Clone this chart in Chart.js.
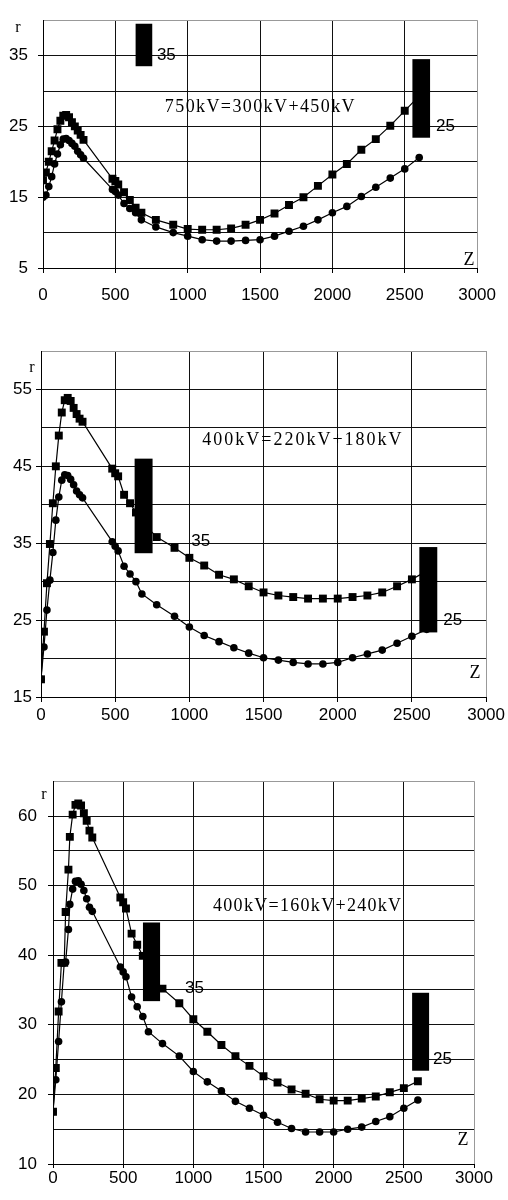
<!DOCTYPE html>
<html>
<head>
<meta charset="utf-8">
<script src="https://cdn.jsdelivr.net/npm/chart.js@4"></script>
<style>
  body { margin: 0; background: #fff; width: 508px; height: 1200px; position: relative; overflow: hidden; }
  canvas { position: absolute; left: 0; }
</style>
</head>
<body>
<canvas id="top" width="508" height="310" style="top:0px"></canvas>
<canvas id="mid" width="508" height="400" style="top:330px"></canvas>
<canvas id="low" width="508" height="440" style="top:760px"></canvas>
<script>
// Z values (same for the first two panels)
const zA = [0, 20, 40, 60, 80, 100, 120, 140, 160, 180, 200, 220, 240, 260, 280,
  480, 500, 520, 560, 600, 640, 680, 780, 900, 1000, 1100, 1200, 1300, 1400, 1500,
  1600, 1700, 1800, 1900, 2000, 2100, 2200, 2300, 2400, 2500, 2600];
const zB = [0, 20, 40, 60, 80, 90, 110, 120, 140, 160, 180, 200, 220, 240, 260, 280,
  480, 500, 520, 560, 600, 640, 680, 780, 900, 1000, 1100, 1200, 1300, 1400, 1500,
  1600, 1700, 1800, 1900, 2000, 2100, 2200, 2300, 2400, 2500, 2600];

// 750kV = 300kV + 450kV
const r750sq = [17.4, 18.5, 20.0, 21.5, 23.0, 24.6, 25.8, 26.5, 26.6, 26.3, 25.6, 25.0, 24.4, 23.8, 23.1,
  17.6, 17.3, 16.8, 15.7, 14.6, 13.5, 12.8, 11.8, 11.1, 10.5, 10.4, 10.4, 10.6, 11.1, 11.8,
  12.7, 13.9, 15.0, 16.6, 18.2, 19.7, 21.7, 23.2, 25.1, 27.2, 29.3];
const r750ci = [15.0, 15.3, 16.5, 17.9, 19.7, 21.1, 22.4, 23.2, 23.3, 23.0, 22.6, 22.2, 21.5, 21.0, 20.5,
  16.1, 15.8, 15.3, 14.1, 13.4, 12.8, 11.8, 10.8, 10.0, 9.5, 9.0, 8.8, 8.8, 8.9, 9.0,
  9.5, 10.2, 10.9, 11.8, 12.8, 13.7, 15.1, 16.4, 17.7, 19.0, 20.6];

// 400kV = 220kV + 180kV
const r220sq = [17.3, 23.5, 29.8, 34.9, 40.2, 45.0, 49.0, 52.0, 53.6, 53.9, 53.5, 52.6, 51.8, 51.2, 50.8,
  44.7, 44.1, 43.7, 41.3, 40.2, 39.0, 37.8, 35.8, 34.4, 33.1, 32.1, 30.9, 30.3, 29.4, 28.6,
  28.2, 28.0, 27.8, 27.8, 27.8, 28.0, 28.2, 28.6, 29.4, 30.3, 31.4];
const r220ci = [17.3, 21.5, 26.3, 30.2, 33.8, 38.0, 41.0, 43.2, 43.9, 43.8, 43.3, 42.6, 41.8, 41.3, 40.9,
  35.2, 34.6, 34.0, 32.0, 31.0, 30.0, 28.4, 27.0, 25.5, 24.1, 23.0, 22.2, 21.4, 20.7, 20.1,
  19.8, 19.5, 19.3, 19.3, 19.5, 20.1, 20.6, 21.1, 22.0, 22.9, 23.8];

// 400kV = 160kV + 240kV
const r160sq = [17.5, 23.8, 31.9, 38.9, 38.9, 46.2, 52.3, 57.0, 60.2, 61.6, 61.8, 61.5, 60.4, 59.3, 57.9, 56.9,
  48.3, 47.6, 46.7, 43.1, 41.5, 39.9, 37.5, 35.2, 33.1, 30.8, 29.0, 27.1, 25.5, 24.1, 22.6,
  21.7, 20.7, 20.1, 19.3, 19.1, 19.1, 19.4, 19.7, 20.3, 20.9, 21.9];
const r160ci = [17.5, 22.1, 27.6, 33.3, 38.9, 39.0, 43.7, 47.3, 49.5, 50.6, 50.7, 50.2, 49.3, 48.1, 46.9, 46.3,
  38.3, 37.6, 36.9, 34.0, 32.6, 31.2, 29.0, 27.3, 25.5, 23.3, 21.8, 20.5, 19.0, 18.0, 17.0,
  16.0, 15.1, 14.6, 14.6, 14.6, 15.0, 15.3, 16.1, 16.8, 18.0, 19.2];

// labelled ticks on the r axes
const yTicks750 = [5, 15, 25, 35];
const yTicks220 = [15, 25, 35, 45, 55];
const yTicks160 = [10, 20, 30, 40, 50, 60];

Chart.defaults.color = '#000';
Chart.defaults.font.family = '"Liberation Sans", Arial, sans-serif';
Chart.defaults.font.size = 17;

function spaced(ctx, s, px, py, gap) {
  for (const ch of s) {
    ctx.fillText(ch, px, py);
    px += ctx.measureText(ch).width + gap;
  }
}

// black boxes, their numbers, the formula and the axis letters
const extras = {
  id: 'extras',
  afterDatasetsDraw(chart, args, o) {
    const { ctx, chartArea: a, scales: { x, y } } = chart;
    ctx.save();
    ctx.fillStyle = '#000';
    ctx.textBaseline = 'middle';
    ctx.textAlign = 'left';
    ctx.font = '17px "Liberation Sans"';
    o.boxes.forEach(b => {
      const l = x.getPixelForValue(b.x0), r = x.getPixelForValue(b.x1);
      const t = y.getPixelForValue(b.y1), bt = y.getPixelForValue(b.y0);
      ctx.fillRect(l, t, r - l, bt - t);
      ctx.fillText(b.text, x.getPixelForValue(b.tx), y.getPixelForValue(b.ty));
    });
    ctx.font = '18px "Liberation Serif"';
    spaced(ctx, o.formula.text, x.getPixelForValue(o.formula.x), y.getPixelForValue(o.formula.y), o.formula.gap);
    ctx.textAlign = 'center';
    ctx.font = '16px "Liberation Serif"';
    ctx.fillText('r', a.left + o.r[0], a.top + o.r[1]);
    ctx.font = '18px "Liberation Serif"';
    ctx.fillText('Z', a.right + o.z[0], a.bottom + o.z[1]);
    ctx.restore();
  }
};

function panel(id, z, sq, ci, yMin, yMax, yLabels, look) {
  const pts = arr => z.map((v, i) => ({ x: v, y: arr[i] }));
  const line = { borderColor: '#000', borderWidth: 1.2, pointBackgroundColor: '#000',
    pointBorderWidth: 0, tension: 0, fill: false };
  return new Chart(document.getElementById(id), {
    type: 'line',
    data: {
      datasets: [
        Object.assign({ data: pts(sq), pointStyle: 'rect', pointRadius: 5.6 }, line),
        Object.assign({ data: pts(ci), pointStyle: 'circle', pointRadius: 3.8 }, line)
      ]
    },
    options: {
      responsive: false,
      animation: false,
      events: [],
      layout: { padding: { top: look.top, right: look.right, left: 0, bottom: 0 } },
      scales: {
        x: {
          type: 'linear', min: 0, max: 3000,
          ticks: { stepSize: 500, autoSkip: false, maxRotation: 0, padding: look.xPad,
            callback: v => String(v) },
          grid: { color: c => c.tick.value === 3000 ? '#999' : '#111', tickLength: look.tick, tickColor: '#000' },
          border: { color: '#000', width: 1 },
          afterFit: s => { s.height = look.xH; }
        },
        y: {
          min: yMin, max: yMax,
          ticks: { stepSize: 5, autoSkip: false, padding: look.yPad,
            callback: v => yLabels.includes(v) ? String(v) : '' },
          grid: { color: c => c.tick.value === yMax ? '#999' : '#111', tickLength: 5,
            tickColor: c => yLabels.includes(c.tick.value) ? '#000' : 'rgba(0,0,0,0)' },
          border: { color: '#000', width: 1 },
          afterFit: s => { s.width = look.yW; }
        }
      },
      plugins: { legend: { display: false }, tooltip: { enabled: false }, extras: look.extras }
    },
    plugins: [extras]
  });
}

panel('top', zA, r750sq, r750ci, 5, 40, yTicks750, {
  top: 10, right: 23, xH: 42, yW: 43, xPad: 12, yPad: 10, tick: 5,
  extras: {
    boxes: [
      { x0: 640, x1: 755, y0: 33.5, y1: 39.5, text: '35', tx: 787, ty: 35 },
      { x0: 2553, x1: 2675, y0: 23.4, y1: 34.5, text: '25', tx: 2716, ty: 25 }
    ],
    formula: { text: '750kV=300kV+450kV', x: 842, y: 27.7, gap: 1.4 },
    r: [-25, 8], z: [-8, -8]
  }
});

panel('mid', zA, r220sq, r220ci, 15, 60, yTicks220, {
  top: 21, right: 20, xH: 33, yW: 41, xPad: 3, yPad: 4, tick: 5,
  extras: {
    boxes: [
      { x0: 631, x1: 752, y0: 33.7, y1: 46.0, text: '35', tx: 1013, ty: 35.3 },
      { x0: 2550, x1: 2671, y0: 23.4, y1: 34.5, text: '25', tx: 2711, ty: 25 }
    ],
    formula: { text: '400kV=220kV+180kV', x: 1087, y: 48.4, gap: 2 },
    r: [-9, 17], z: [-11, -24]
  }
});

panel('low', zB, r160sq, r160ci, 10, 65, yTicks160, {
  top: 19, right: 34, xH: 36, yW: 53, xPad: 0, yPad: 11, tick: 4,
  extras: {
    boxes: [
      { x0: 641, x1: 763, y0: 33.4, y1: 44.7, text: '35', tx: 941, ty: 35.3 },
      { x0: 2559, x1: 2680, y0: 23.4, y1: 34.6, text: '25', tx: 2708, ty: 25 }
    ],
    formula: { text: '400kV=160kV+240kV', x: 1140, y: 47, gap: 1.3 },
    r: [-9, 14], z: [-11, -24]
  }
});
</script>
</body>
</html>
